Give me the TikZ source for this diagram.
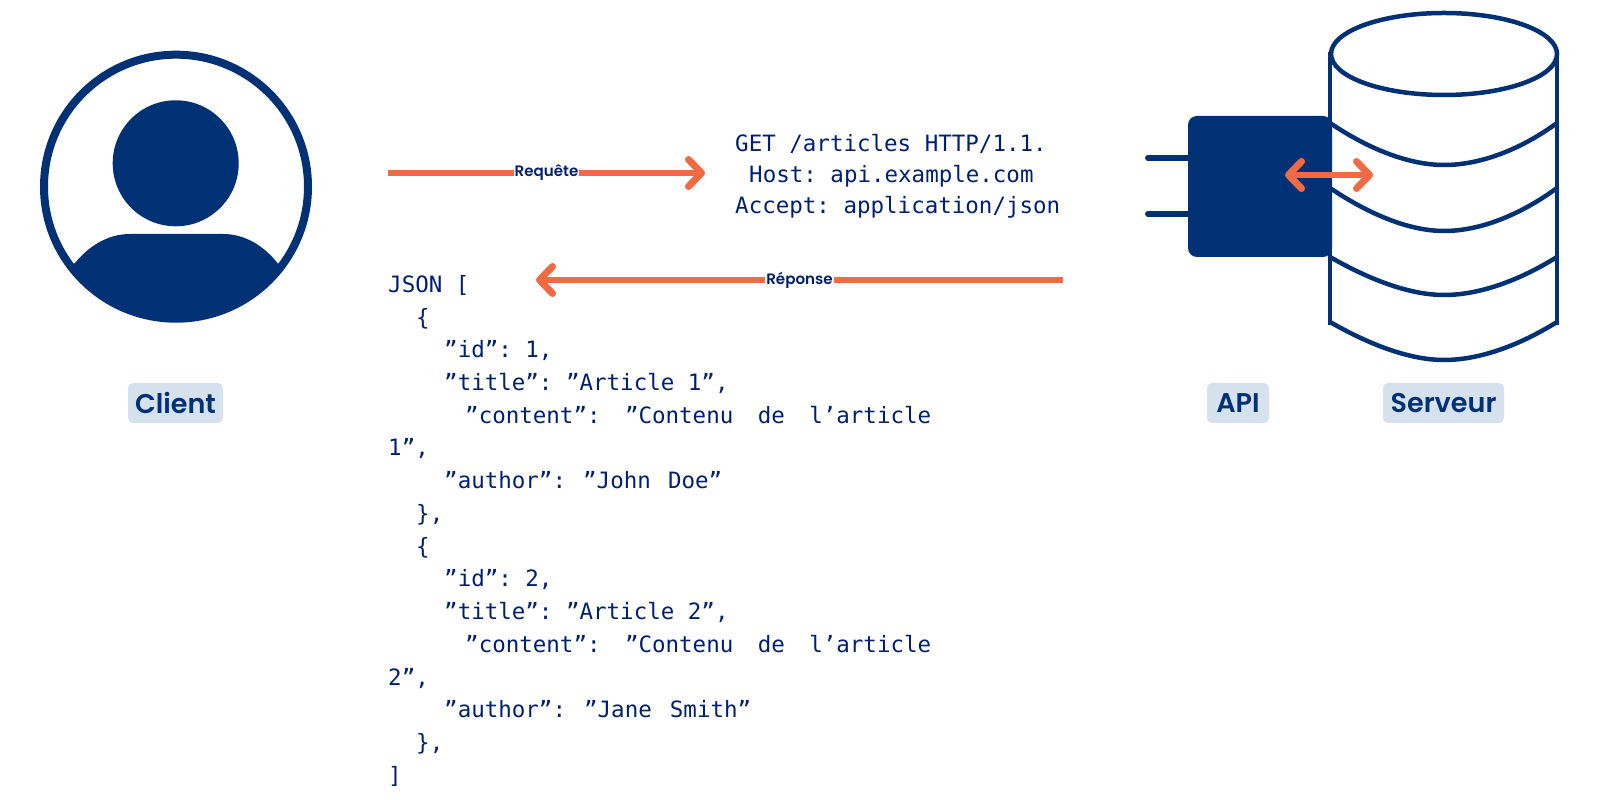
\documentclass[tikz,border=0pt]{standalone}
\usepackage{fontspec}
\setmainfont{Poppins}[BoldFont={Poppins SemiBold}]
\setmonofont{DejaVu Sans Mono}
\usetikzlibrary{arrows.meta}
\definecolor{navy}{HTML}{013175}
\definecolor{codeblue}{HTML}{00206E}
\definecolor{flame}{HTML}{F06B45}
\definecolor{tagblue}{HTML}{D6E1EE}
\tikzset{
  barb/.tip={Straight Barb[round,length=0.13cm,width=0.27cm,line width=0.07cm]},
  flow/.style={draw=flame,line width=0.06cm,-barb},
  flowtag/.style={fill=white,text=codeblue,inner xsep=0.01cm,inner ysep=0.02cm,font=\fontsize{4.3}{5}\selectfont\bfseries},
  tag/.style={fill=tagblue,text=navy,rounded corners=0.05cm,minimum height=0.4cm,inner sep=0pt,font=\fontsize{7.7}{9}\selectfont\bfseries},
  code/.style={anchor=base west,inner sep=0pt,text=codeblue,xshift=-0.015cm,yshift=-0.012cm,font=\fontsize{6.4}{8}\ttfamily},
  dbline/.style={draw=navy,line width=0.045cm},
  prong/.style={draw=navy,line width=0.06cm,line cap=round}
}
\begin{document}
\begin{tikzpicture}
  \useasboundingbox (0,0) rectangle (16,8);
  % client
  \draw[navy,line width=0.08cm] (1.76,6.133) circle (1.32);
  \fill[navy] (1.757,6.367) circle (0.63);
  \fill[navy] (0.75,5.37) .. controls (0.88,5.53) and (1.07,5.66) .. (1.3,5.66) -- (2.23,5.66)
    .. controls (2.46,5.66) and (2.65,5.53) .. (2.78,5.363) -- (2.798,5.351) arc[start angle=-37,end angle=-143,radius=1.3] -- cycle;
  \node[tag,minimum width=0.95cm] (client) at (1.755,3.97) {Client};
  % server
  \draw[dbline] (13.3,7.48) -- (13.3,4.75);
  \draw[dbline] (15.57,7.48) -- (15.57,4.75);
  \draw[dbline,fill=white] (14.44,7.46) ellipse (1.13 and 0.41);
  \draw[dbline] (13.3,6.77) .. controls (13.7,6.5) and (14.1,6.35) .. (14.44,6.35) .. controls (14.8,6.35) and (15.2,6.5) .. (15.57,6.77);
  \draw[dbline] (13.3,6.12) .. controls (13.7,5.85) and (14.1,5.69) .. (14.44,5.69) .. controls (14.8,5.69) and (15.2,5.85) .. (15.57,6.12);
  \draw[dbline] (13.3,5.43) .. controls (13.7,5.2) and (14.1,5.05) .. (14.44,5.05) .. controls (14.8,5.05) and (15.2,5.2) .. (15.57,5.43);
  \draw[dbline] (13.3,4.78) .. controls (13.7,4.55) and (14.1,4.4) .. (14.44,4.4) .. controls (14.8,4.4) and (15.2,4.55) .. (15.57,4.78);
  \node[tag,minimum width=1.21cm] (server) at (14.435,3.97) {Serveur};
  % api
  \coordinate (plugtop) at (11.48,6.42);
  \coordinate (plugbot) at (11.48,5.86);
  \draw[prong] (plugtop) -- (11.95,6.42);
  \draw[prong] (plugbot) -- (11.95,5.86);
  \node[fill=navy,rounded corners=0.09cm,minimum width=1.44cm,minimum height=1.41cm,inner sep=0pt] (apibox) at (12.6,6.135) {};
  \node[tag,minimum width=0.62cm] (api) at (12.38,3.97) {API};
  \coordinate (syncl) at (12.85,6.25);
  \coordinate (syncr) at (13.73,6.25);
  \draw[flow,barb-barb,line width=0.065cm] (syncl) -- (syncr);
  % exchanges
  \coordinate (reqfrom) at (3.88,6.27);
  \coordinate (reqto) at (7.05,6.27);
  \draw[flow] (reqfrom) -- node[flowtag] (reqtag) {Requête} (reqto);
  \coordinate (respfrom) at (10.63,5.2);
  \coordinate (respto) at (5.36,5.2);
  \draw[flow] (respfrom) -- node[flowtag] (resptag) {Réponse} (respto);
  % request
  \node[code] (get) at (7.36,6.5) {GET /articles HTTP/1.1.};
  \node[code] (host) at (7.5,6.19) {Host: api.example.com};
  \node[code] (accept) at (7.36,5.88) {Accept: application/json};
  % response
  \node[code] (json) at (3.89,5.085) {JSON [};
  \node[code] (opena) at (4.17,4.76) {\{};
  \node[code] (ida) at (4.45,4.433) {”id”: 1,};
  \node[code] (titlea) at (4.45,4.106) {”title”: ”Article 1”,};
  \node[code] (contenta) at (4.66,3.78) {\makebox[4.66cm][s]{”content”:\hfill ”Contenu\hfill de\hfill l’article}};
  \node[code] (enda) at (3.89,3.452) {1”,};
  \node[code] (authora) at (4.45,3.125) {\makebox[2.78cm][s]{”author”:\hfill ”John\hfill Doe”}};
  \node[code] (closea) at (4.17,2.8) {\},};
  \node[code] (openb) at (4.17,2.47) {\{};
  \node[code] (idb) at (4.45,2.144) {”id”: 2,};
  \node[code] (titleb) at (4.45,1.82) {”title”: ”Article 2”,};
  \node[code] (contentb) at (4.66,1.49) {\makebox[4.66cm][s]{”content”:\hfill ”Contenu\hfill de\hfill l’article}};
  \node[code] (endb) at (3.89,1.16) {2”,};
  \node[code] (authorb) at (4.45,0.835) {\makebox[3.07cm][s]{”author”:\hfill ”Jane\hfill Smith”}};
  \node[code] (closeb) at (4.17,0.51) {\},};
  \node[code] (last) at (3.89,0.18) {]};
\end{tikzpicture}
\end{document}
